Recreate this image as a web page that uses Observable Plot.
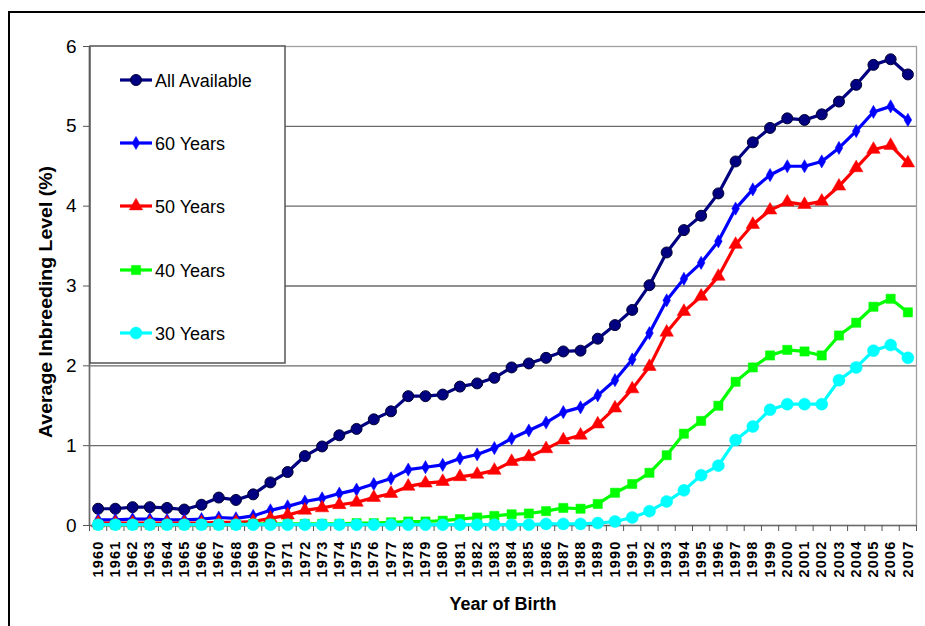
<!DOCTYPE html>
<html><head><meta charset="utf-8">
<script src="https://cdn.jsdelivr.net/npm/d3@7"></script>
<script src="https://cdn.jsdelivr.net/npm/@observablehq/plot@0.6"></script>
<style>
body{margin:0;background:#fff;font-family:Arial,"Liberation Sans",sans-serif;}
#chart{width:925px;height:626px;overflow:hidden;}
</style>
</head><body><div id="chart"></div>
<script>
const years = [1960,1961,1962,1963,1964,1965,1966,1967,1968,1969,1970,1971,1972,1973,1974,1975,1976,1977,1978,1979,1980,1981,1982,1983,1984,1985,1986,1987,1988,1989,1990,1991,1992,1993,1994,1995,1996,1997,1998,1999,2000,2001,2002,2003,2004,2005,2006,2007];
const allAvailable = [0.21,0.21,0.23,0.23,0.22,0.20,0.26,0.35,0.32,0.39, 0.54,0.67,0.87,0.99,1.13,1.21,1.33,1.43,1.62,1.62, 1.64,1.74,1.78,1.85,1.98,2.03,2.10,2.18,2.19,2.34, 2.51,2.70,3.01,3.42,3.70,3.88,4.16,4.56,4.80,4.98, 5.10,5.08,5.15,5.31,5.52,5.77,5.84,5.65];
const years60 = [0.07,0.07,0.08,0.08,0.07,0.07,0.08,0.10,0.09,0.12, 0.19,0.24,0.30,0.34,0.40,0.45,0.52,0.59,0.70,0.73, 0.76,0.84,0.89,0.97,1.09,1.19,1.29,1.42,1.48,1.63, 1.82,2.08,2.41,2.82,3.09,3.29,3.56,3.97,4.21,4.39, 4.50,4.50,4.56,4.73,4.94,5.18,5.25,5.08];
const years50 = [0.03,0.03,0.03,0.03,0.03,0.03,0.03,0.04,0.04,0.05, 0.09,0.13,0.19,0.22,0.26,0.29,0.35,0.40,0.49,0.53, 0.55,0.61,0.64,0.69,0.80,0.86,0.96,1.07,1.13,1.27, 1.47,1.71,1.99,2.42,2.68,2.87,3.12,3.52,3.77,3.95, 4.05,4.02,4.06,4.25,4.48,4.71,4.76,4.54];
const years40 = [0.01,0.01,0.01,0.01,0.01,0.01,0.01,0.01,0.01,0.02, 0.02,0.02,0.02,0.02,0.02,0.03,0.03,0.04,0.05,0.05, 0.06,0.08,0.10,0.12,0.14,0.15,0.18,0.22,0.21,0.27, 0.41,0.52,0.66,0.88,1.15,1.31,1.50,1.80,1.98,2.13, 2.20,2.18,2.13,2.38,2.54,2.74,2.84,2.67];
const years30 = [0.01,0.01,0.01,0.01,0.01,0.01,0.01,0.01,0.01,0.01, 0.01,0.01,0.01,0.01,0.01,0.01,0.01,0.01,0.01,0.01, 0.01,0.01,0.01,0.01,0.01,0.01,0.02,0.02,0.02,0.03, 0.05,0.10,0.18,0.30,0.44,0.63,0.75,1.07,1.24,1.45, 1.52,1.52,1.52,1.82,1.98,2.19,2.26,2.10];

const seriesNames = ["All Available","60 Years","50 Years","40 Years","30 Years"];
const seriesValues = [allAvailable, years60, years50, years40, years30];
const seriesColors = ["#000080","#0000FF","#FF0000","#00FF00","#00FFFF"];
const seriesSymbols = ["circle","diamond","triangle","square","circle"];
const seriesSizes = [5.5,4,5,5.2,6];
const yTicks = [0,1,2,3,4,5,6];
const gridValues = [1,2,3,4,5];
const xTitle = "Year of Birth";
const yTitle = "Average Inbreeding Level (%)";

const tickEdges = years.map(y => y - 0.5).concat([years[years.length-1] + 0.5]);
const seriesData = seriesNames.map((name,i) => years.map((yr,j) => ({series:name, year:yr, value:seriesValues[i][j]})));

const marks = [
  Plot.gridY(gridValues, {stroke:"#6b6b6b", strokeOpacity:1, strokeWidth:1.3}),
  Plot.frame({stroke:"#a0a0a0", strokeWidth:1.3}),
  Plot.ruleX([tickEdges[0]], {stroke:"#6b6b6b", strokeWidth:1.6}),
  Plot.ruleY([0], {stroke:"#6b6b6b", strokeWidth:1.6}),
  Plot.axisY({ticks:yTicks, tickSize:6, tickPadding:7, fontSize:19, tickFormat:d=>String(d), stroke:"#555", label:null}),
  Plot.axisX({ticks:tickEdges, tickSize:6, tickFormat:()=>"", stroke:"#555", label:null}),
  Plot.axisX({ticks:years, tickSize:0, tickPadding:15, tickRotate:-90, fontSize:14.5, fontWeight:"bold", tickFormat:d=>String(d), label:null})
];
seriesData.forEach((data,i) => {
  marks.push(Plot.line(data, {x:"year", y:"value", stroke:seriesColors[i], strokeWidth:3.2}));
  marks.push(Plot.dot(data, {x:"year", y:"value", symbol:seriesSymbols[i], r:seriesSizes[i], fill:seriesColors[i],
    stroke: i===0 ? "#000033" : seriesColors[i], strokeWidth: i===0 ? 1 : 0.5}));
});

const chart = Plot.plot({
  width:925, height:626,
  marginLeft:89, marginRight:9, marginTop:46, marginBottom:101,
  style:{background:"transparent", color:"#000", fontFamily:"Arial, 'Liberation Sans', sans-serif", overflow:"visible"},
  x:{type:"linear", domain:[tickEdges[0], tickEdges[tickEdges.length-1]], axis:null},
  y:{domain:[0,6], axis:null},
  marks
});
document.getElementById("chart").appendChild(chart);

const svg = d3.select(chart);
svg.selectAll("text").filter(function(){ return /^\d{4}$/.test(this.textContent.trim()); })
  .attr("font-weight","bold").style("letter-spacing","1.2px");

// outer chart border
svg.append("rect").attr("x",9).attr("y",12).attr("width",940).attr("height",640)
  .attr("fill","none").attr("stroke","#000").attr("stroke-width",2);

// axis titles
svg.append("text").attr("x",503).attr("y",610).attr("text-anchor","middle")
  .attr("font-size",18).attr("font-weight","bold").attr("fill","#000").text(xTitle);
svg.append("text").attr("transform","translate(52,302) rotate(-90)").attr("text-anchor","middle")
  .attr("font-size",18).attr("font-weight","bold").attr("fill","#000")
  .attr("textLength",272).attr("lengthAdjust","spacingAndGlyphs").text(yTitle);

// legend
const lg = svg.append("g").attr("text-anchor","start");
lg.append("rect").attr("x",90).attr("y",46).attr("width",195).attr("height",317)
  .attr("fill","#fff").attr("stroke","#555").attr("stroke-width",1.5);
const rowY = [80,143,206,270,333];
seriesNames.forEach((name,i) => {
  const gy = rowY[i];
  lg.append("line").attr("x1",120).attr("x2",152).attr("y1",gy).attr("y2",gy)
    .attr("stroke",seriesColors[i]).attr("stroke-width",3.2);
  lg.append("path").attr("transform",`translate(136,${gy})`)
    .attr("d", d3.symbol(
      {circle:d3.symbolCircle, diamond:d3.symbolDiamond, triangle:d3.symbolTriangle, square:d3.symbolSquare}[seriesSymbols[i]],
      Math.PI*seriesSizes[i]*seriesSizes[i])())
    .attr("fill",seriesColors[i]).attr("stroke", i===0 ? "#000033" : seriesColors[i]).attr("stroke-width", i===0?1:0.5);
  lg.append("text").attr("x",155).attr("y",gy+6.5).attr("text-anchor","start").attr("font-size",18).attr("fill","#000").text(name);
});
</script>
</body></html>
